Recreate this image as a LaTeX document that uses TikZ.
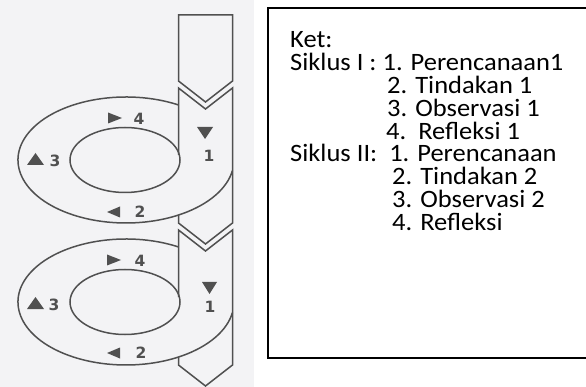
\documentclass[tikz,border=0pt]{standalone}
\usepackage{fontspec}
\setmainfont{Carlito}
\newfontfamily\ketfont{Carlito}[FakeStretch=1.06]
\newfontfamily\numfont{DejaVu Sans}
\definecolor{linegray}{HTML}{505050}
\definecolor{leftbg}{HTML}{F3F3F5}
\tikzset{
  ln/.style={draw=linegray, line width=1.5pt, line join=miter},
  tri/.style={fill=linegray, draw=none},
  num/.style={font=\numfont\bfseries\fontsize{15.5}{15.5}\selectfont, text=linegray, inner sep=0pt},
  ket/.style={font=\ketfont\fontsize{25}{25}\selectfont, anchor=base west, inner sep=0pt},
  boxline/.style={draw=black, line width=2pt}
}
\begin{document}
\begin{tikzpicture}[x=1pt,y=-1pt]
\useasboundingbox (0,0) rectangle (586,387);
\fill[leftbg] (0,0) rectangle (254,387);

% column blocks
\draw[ln] (178.5,15) -- (232.5,15) -- (232.5,81) -- (205.5,102) -- (178.5,81) -- cycle;
\draw[ln] (178.5,155) -- (178.5,88) -- (205.5,109) -- (232.5,88) -- (232.5,223) -- (205.5,244) -- (178.5,223) -- (178.5,215);
\draw[ln] (178.5,297) -- (178.5,230) -- (205.5,251) -- (232.5,230) -- (232.5,365) -- (205.5,386) -- (178.5,365) -- (178.5,357);

% ring 1
\draw[ln] (178.5,104.95) arc[start angle=-60.9, end angle=-350.4, x radius=108, y radius=63];
\draw[ln] (125,160) ellipse [x radius=55, y radius=32.5];
% ring 2
\draw[ln] (178.5,246.95) arc[start angle=-60.9, end angle=-350.4, x radius=108, y radius=63];
\draw[ln] (125,302) ellipse [x radius=55, y radius=32.5];

% markers ring 1
\fill[tri] (108,112.5) -- (108,123.5) -- (122,118) -- cycle;
\node[num] (a4) at (139,119) {4};
\fill[tri] (27,165) -- (44,165) -- (35.5,153) -- cycle;
\node[num] (a3) at (55,161) {3};
\fill[tri] (197,127) -- (213,127) -- (205,139) -- cycle;
\node[num] (a1) at (209,156) {1};
\fill[tri] (120,206.5) -- (120,217.5) -- (107,212) -- cycle;
\node[num] (a2) at (140,212) {2};

% markers ring 2
\fill[tri] (107,254.5) -- (107,265.5) -- (121,260) -- cycle;
\node[num] (b4) at (140,261) {4};
\fill[tri] (27,309) -- (44,309) -- (35.5,297) -- cycle;
\node[num] (b3) at (54,305) {3};
\fill[tri] (202,282) -- (217,282) -- (209.5,294) -- cycle;
\node[num] (b1) at (210,307) {1};
\fill[tri] (120,347.5) -- (120,358.5) -- (107,353) -- cycle;
\node[num] (b2) at (141,353) {2};

% legend box
\draw[boxline] (590,8) -- (268,8) -- (268,358) -- (590,358);
\node[ket] (t0) at (290,48) {Ket:};
\node[ket] (t1) at (290,70.8) {Siklus I : 1. Perencanaan1};
\node[ket] (t2) at (387,93.6) {2. Tindakan 1};
\node[ket] (t3) at (387,116.4) {3. Observasi 1};
\node[ket] (t4) at (386,139.2) {4.\ \ Refleksi 1};
\node[ket] (t5) at (290,162) {Siklus II:\ \ 1. Perencanaan};
\node[ket] (t6) at (392,184.8) {2. Tindakan 2};
\node[ket] (t7) at (392,207.6) {3. Observasi 2};
\node[ket] (t8) at (392,230.4) {4. Refleksi};
\end{tikzpicture}
\end{document}
